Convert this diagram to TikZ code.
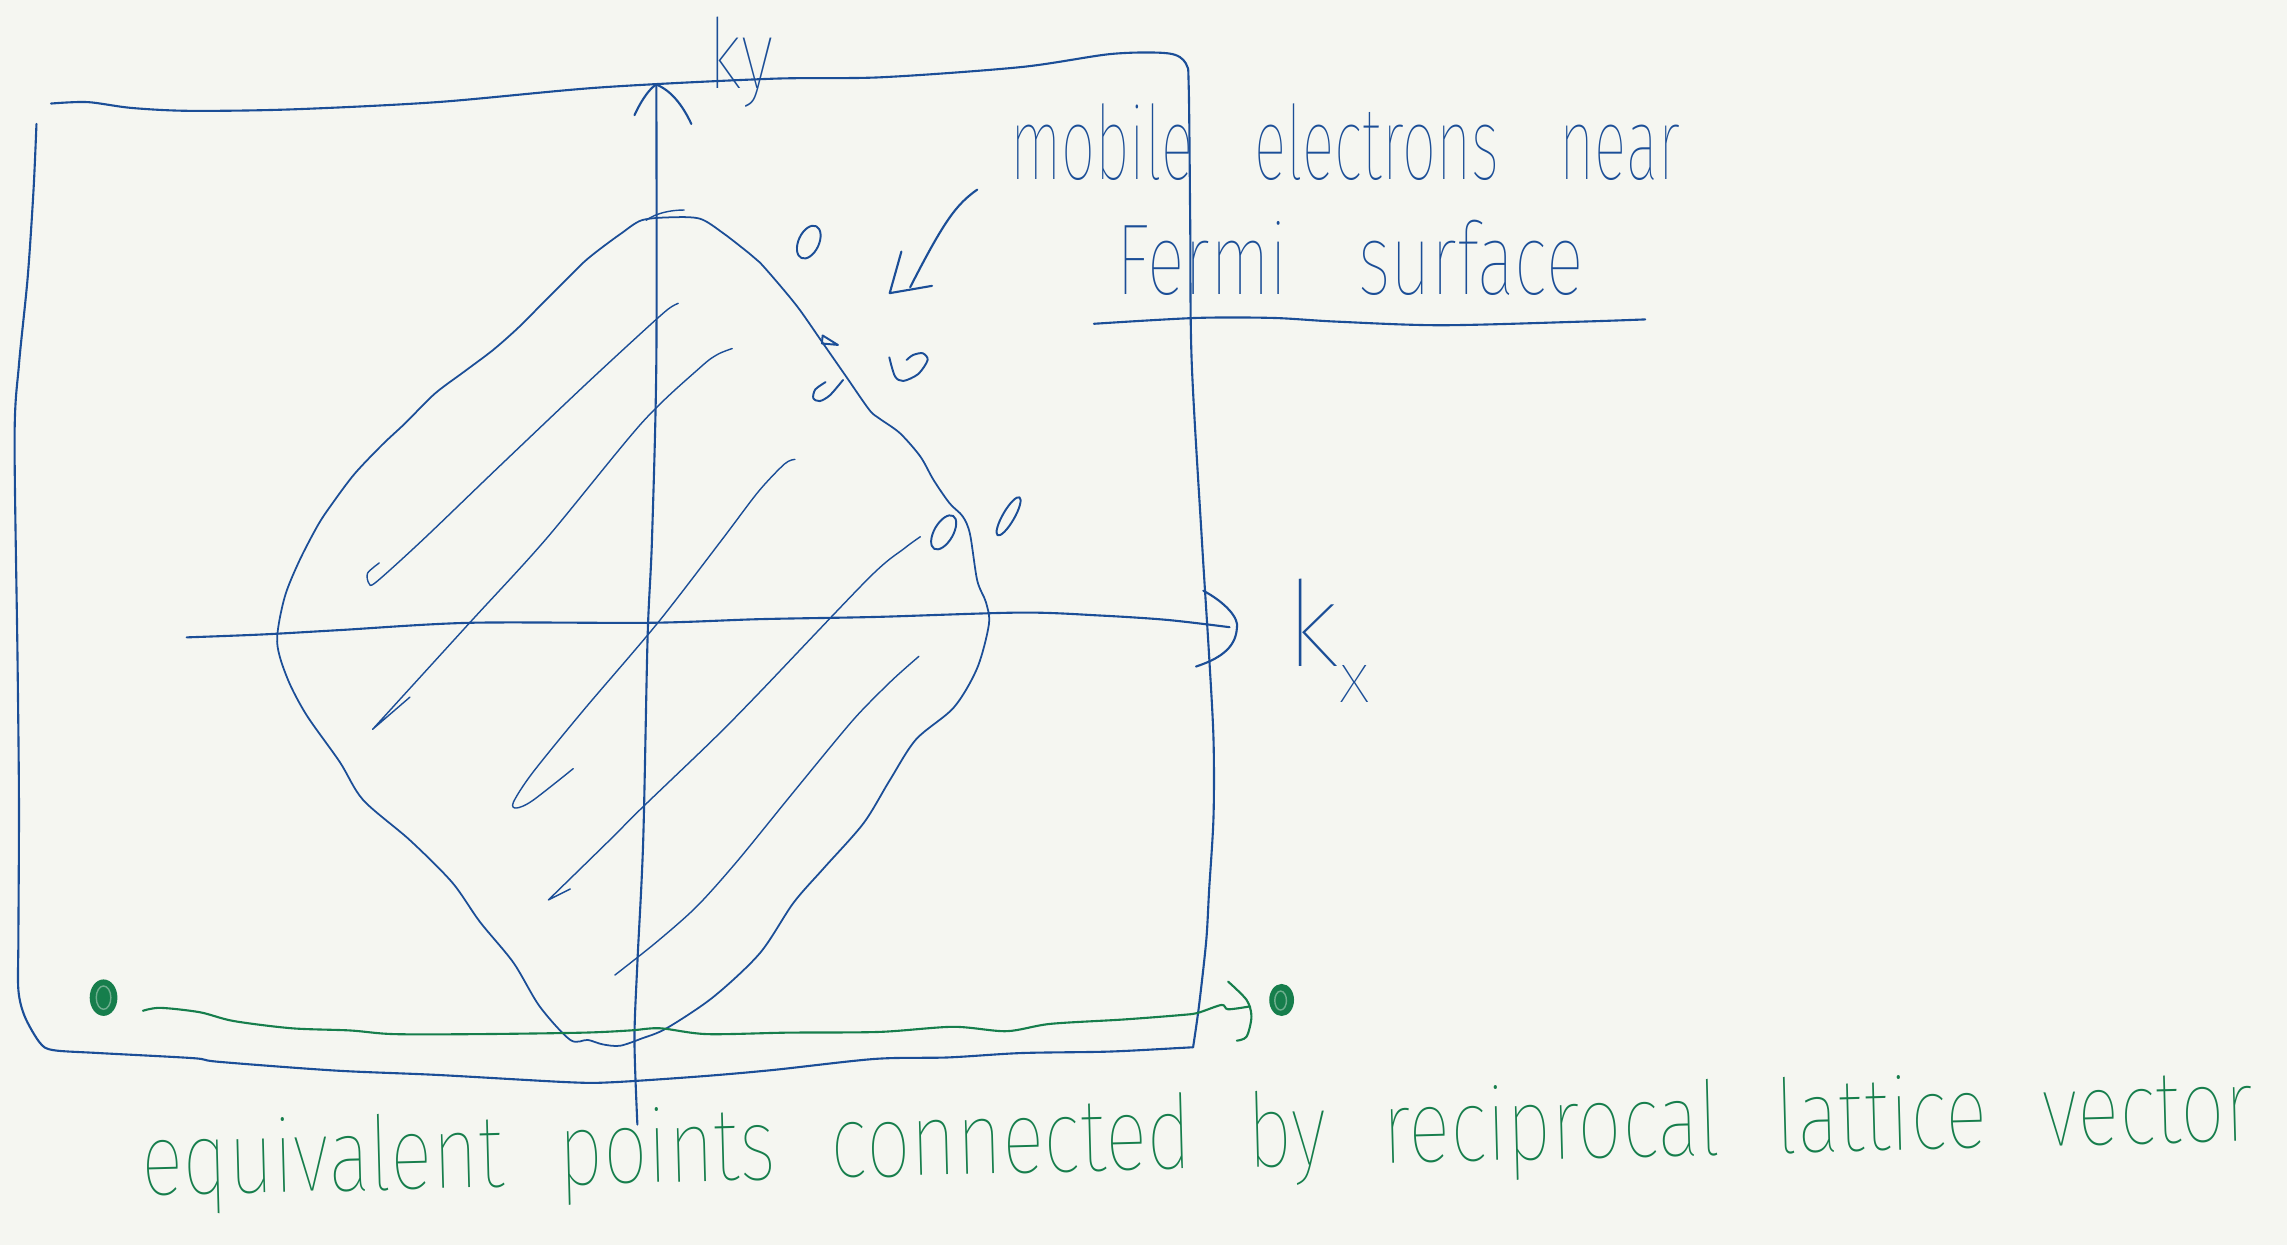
\documentclass[tikz,border=0pt]{standalone}
\usepackage{fontspec}
\IfFontExistsTF{Fira Sans Thin}{\newfontfamily\hand{Fira Sans Thin}}{%
  \IfFontExistsTF{Fira Sans Light}{\newfontfamily\hand{Fira Sans Light}}{\newfontfamily\hand{Fira Sans}}}
\definecolor{paper}{HTML}{F5F6F1}
\definecolor{ink}{HTML}{1B4E97}
\definecolor{greenink}{HTML}{167E4C}
\newcommand{\handtext}[4][1em]{\resizebox{#2}{#3}{\hand\spaceskip=#1\relax #4}}

\begin{document}
\begin{tikzpicture}[x=0.014586cm,y=-0.014586cm,
  pen/.style={draw=ink,line width=0.6pt,line cap=round,line join=round},
  fine/.style={draw=ink,line width=0.4pt,line cap=round,line join=round},
  elec/.style={draw=ink,line width=0.55pt,line cap=round,line join=round},
  gpen/.style={draw=greenink,line width=0.6pt,line cap=round,line join=round},
  lbl/.style={inner sep=0pt,anchor=base west,text=ink},
  glbl/.style={inner sep=0pt,anchor=base west,text=greenink}
]
\fill[paper] (0,0) rectangle (1568,853.6);
\useasboundingbox (0,0) rectangle (1568,853.6);

% zone boundary
\draw[pen] plot[smooth] coordinates {(35,71) (60,70) (90,74) (130,76) (200,75) (300,70)
  (411,60) (529,54) (604,53) (700,46) (762,37) (801,36.6) (813,43.4) (815,59.4) (816,150)
  (817,247) (824,370) (829,450) (832,507) (832,560) (829,610) (827,645) (822,690) (818,718)};
\draw[pen] plot[smooth] coordinates {(818,718) (809,718.5) (760,721) (700,722) (650,725)
  (600,726) (530,733.6) (480,738) (420,742) (390,742) (300,737) (230,734) (150,728)
  (132.6,725.5) (68,722) (36.6,720) (27.4,715) (17,697) (12.6,678.7) (12.6,644) (13,550)
  (12,450) (10,300) (13,250) (19,190) (23,130) (25,85)};

% axes
\draw[pen] plot[smooth] coordinates {(128,437) (180,435) (233,432) (322,427) (445.6,427)
  (521,424.5) (600,423) (700,420) (754,422) (800,425) (843,430)};
\draw[pen] (825,405) .. controls (840,413) and (850,424) .. (848,431)
  .. controls (847,445) and (835,452) .. (820,457);
\draw[pen] plot[smooth] coordinates {(437,771) (435,713) (437,660) (441,576) (444,437)
  (447,370) (450,247) (450,58)};
\draw[pen] (435,79) .. controls (440,68) and (446,60) .. (450,58)
  .. controls (460,62) and (468,72) .. (474,85);
\node[lbl] (ky) at (485,61) {\handtext{0.656cm}{0.715cm}{ky}};
\node[lbl] (kx) at (881,457) {\handtext{0.846cm}{0.875cm}{k\raisebox{-0.3em}{\scalebox{0.6}{x}}}};

% Fermi surface
\draw[fine,line width=0.5pt] plot[smooth cycle] coordinates {(440,151) (460,149) (480,150)
  (496,160) (514,174) (521,180) (535,196) (548,212) (564,235) (580,258) (596,281)
  (603,287) (617,297) (631,313) (640,329) (651,345) (660,354) (665,366) (670,398)
  (676,413) (678,428) (670,458) (654,485) (628,507) (610,535) (592,564.5) (565,595)
  (544,619) (521,653.5) (489,683.6) (457,705) (440,712) (425,717) (413,716) (403,713)
  (391,713) (370,690) (352,660) (329,632) (310,605) (281,576) (249,548.5) (233,522.5)
  (210,490) (197,465) (190,440) (195,410) (205,385) (218,360) (228,345) (243,325)
  (262,305) (278,290) (298,270) (318,255) (338,240) (355,225) (370,210) (385,195)
  (400,180) (411,171) (426,160)};
\draw[fine] (443,151) .. controls (450,146) and (460,144) .. (469,144);

% filled states
\draw[fine] plot[smooth] coordinates {(260,386) (252,393) (253,400) (258,399) (290,370)
  (340,322) (400,265) (440,228) (458,212) (465,208)};
\draw[fine] plot[smooth] coordinates {(502,239) (492,243) (480,252) (440,290) (374,370)
  (322,427) (255.5,500)} -- (281,478);
\draw[fine] plot[smooth] coordinates {(545,315) (538,318) (520,337) (495,370) (451,427)
  (400,487) (365,530) (352,550) (354,554) (365,549) (393,527)};
\draw[fine] plot[smooth] coordinates {(631,368) (620,376) (596,396) (521,474.5) (489,507)
  (440,554) (418,576) (376,617)} -- (391,609.5);
\draw[fine] plot[smooth] coordinates {(630,450) (612,466) (590,488) (573.6,507) (540,548)
  (505,591) (477.6,621.6) (450,646) (421.6,668.5)};

% electrons near the Fermi surface
\draw[elec,rotate around={-25:(554.5,166)}] (554.5,166) ellipse [x radius=7, y radius=12];
\draw[elec] (564,230) -- (574.5,236.5) -- (563.5,235.5) -- cycle;
\draw[elec] plot[smooth] coordinates {(566,262) (559,267) (557.6,273) (562,275) (569,271) (578,260.5)};
\draw[elec] plot[smooth] coordinates {(609.7,245) (613.6,258) (619.3,261.2) (629.6,256.4)
  (636,246.8) (632.6,242.2) (626,243.4) (621.6,246.8)};
\draw[elec,rotate around={-30:(647,365)}] (647,365) ellipse [x radius=6.5, y radius=13];
\draw[elec,rotate around={-30:(691.5,354)}] (691.5,354) ellipse [x radius=4, y radius=15];

% note
\node[lbl] (note) at (692,123) {\handtext{6.70cm}{0.758cm}{mobile electrons near}};
\node[lbl] (fermi) at (765,202) {\handtext{4.67cm}{0.744cm}{Fermi surface}};
\draw[pen] plot[smooth] coordinates {(750,222) (820,218) (873,218) (916,220.5) (988,223)
  (1085,220.5) (1128,219)};
\coordinate (ptr) at (670,130);
\coordinate (tip) at (610,201);
\draw[pen] (ptr) .. controls (656,140) and (648,150) .. (624,197);
\draw[pen] (618,172.5) -- (tip) -- (639,196);

% equivalent points
\fill[greenink] (71,684) ellipse [x radius=9.5, y radius=12.5];
\draw[greenink!60!paper,line width=0.4pt] (71,684) ellipse [x radius=5, y radius=8];
\fill[greenink] (878.7,685.6) ellipse [x radius=8.5, y radius=11];
\draw[greenink!60!paper,line width=0.4pt] (878,686) ellipse [x radius=4, y radius=6.5];
\draw[gpen] plot[smooth] coordinates {(98,693) (110,691) (137,694) (160,700) (200,705)
  (240,706.5) (270,709) (329,709) (400,708) (432,706.5) (452.5,705) (484.5,709) (540,708)
  (603,707.5) (653.5,704) (690,707) (720,702) (770,699) (809,696) (821,694.5) (837.5,689)
  (842,692) (857,690)};
\draw[gpen] plot[smooth] coordinates {(842,673) (854.7,685.6) (858,697) (854.7,710.7) (848,713.5)};
\node[glbl,rotate=1.5] (caption) at (97,820)
  {\handtext[0.7em]{21.13cm}{0.76cm}{equivalent points connected by reciprocal lattice vector}};
\end{tikzpicture}
\end{document}
